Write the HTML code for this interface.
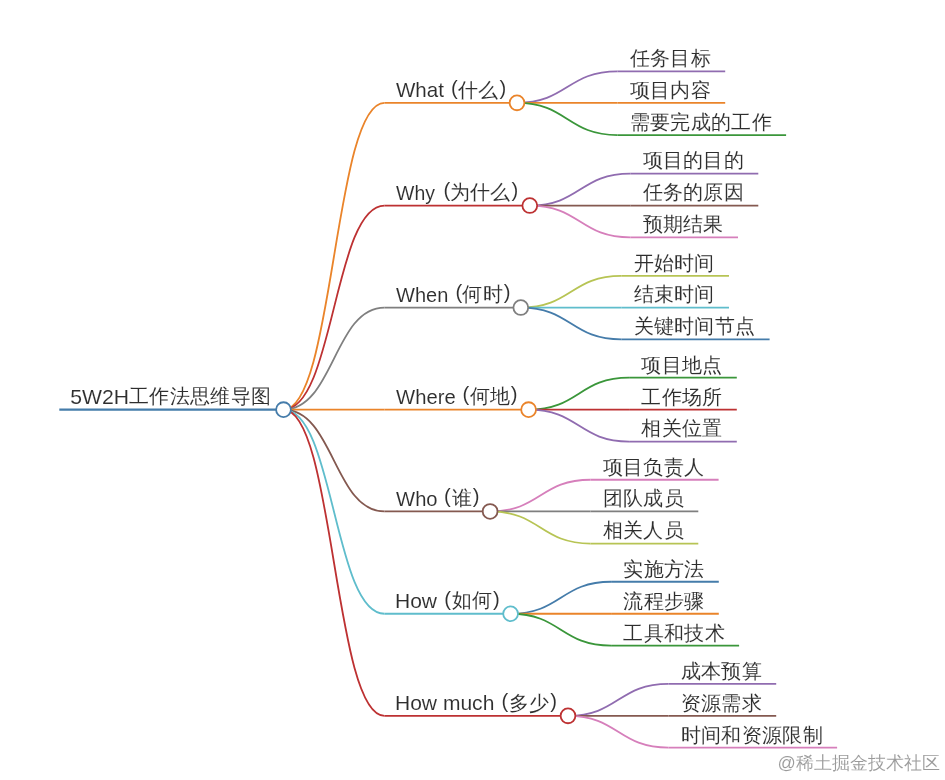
<!DOCTYPE html>
<html><head><meta charset="utf-8"><style>
html,body{margin:0;padding:0;background:#fff;width:945px;height:780px;overflow:hidden}
svg{position:absolute;left:0;top:0;will-change:transform}
text{font-family:"Liberation Sans",sans-serif;font-size:20.3px;fill:#2e2e2e;stroke:#fff;stroke-width:0.08px}
.lat{font-size:20.6px}
.cj{letter-spacing:0.3px}
.wm{fill:#9a9a9a;font-size:18px}
</style></head><body>
<svg width="945" height="780" viewBox="0 0 945 780">
<g fill="none" stroke-width="1.8">
<path d="M59.3,409.65H283.5" stroke="#457caa" stroke-width="2.4"/>
<path d="M283.50,409.65C334.00,409.65 334.00,102.85 384.50,102.85" stroke="#ea842a"/>
<path d="M384.5,102.85H517.0" stroke="#ea842a"/>
<path d="M517.00,102.85C567.25,102.85 567.25,71.35 617.50,71.35" stroke="#906cb0"/>
<path d="M617.50,71.35H725.20" stroke="#906cb0"/>
<path d="M517.00,102.85C567.25,102.85 567.25,102.85 617.50,102.85" stroke="#ea842a"/>
<path d="M617.50,102.85H725.20" stroke="#ea842a"/>
<path d="M517.00,102.85C567.25,102.85 567.25,135.05 617.50,135.05" stroke="#3a963a"/>
<path d="M617.50,135.05H786.10" stroke="#3a963a"/>
<path d="M283.50,409.65C334.00,409.65 334.00,205.55 384.50,205.55" stroke="#bd3132"/>
<path d="M384.5,205.55H529.8" stroke="#bd3132"/>
<path d="M529.80,205.55C580.05,205.55 580.05,173.55 630.30,173.55" stroke="#906cb0"/>
<path d="M630.30,173.55H758.30" stroke="#906cb0"/>
<path d="M529.80,205.55C580.05,205.55 580.05,205.55 630.30,205.55" stroke="#845950"/>
<path d="M630.30,205.55H758.30" stroke="#845950"/>
<path d="M529.80,205.55C580.05,205.55 580.05,237.45 630.30,237.45" stroke="#d67fbb"/>
<path d="M630.30,237.45H738.00" stroke="#d67fbb"/>
<path d="M283.50,409.65C334.00,409.65 334.00,307.55 384.50,307.55" stroke="#7f7f7f"/>
<path d="M384.5,307.55H520.8" stroke="#7f7f7f"/>
<path d="M520.80,307.55C571.05,307.55 571.05,275.85 621.30,275.85" stroke="#b7c454"/>
<path d="M621.30,275.85H729.00" stroke="#b7c454"/>
<path d="M520.80,307.55C571.05,307.55 571.05,307.55 621.30,307.55" stroke="#5fbdcc"/>
<path d="M621.30,307.55H729.00" stroke="#5fbdcc"/>
<path d="M520.80,307.55C571.05,307.55 571.05,339.45 621.30,339.45" stroke="#457caa"/>
<path d="M621.30,339.45H769.60" stroke="#457caa"/>
<path d="M283.50,409.65C334.00,409.65 334.00,409.65 384.50,409.65" stroke="#ea842a"/>
<path d="M384.5,409.65H528.6" stroke="#ea842a"/>
<path d="M528.60,409.65C578.85,409.65 578.85,377.65 629.10,377.65" stroke="#3a963a"/>
<path d="M629.10,377.65H736.80" stroke="#3a963a"/>
<path d="M528.60,409.65C578.85,409.65 578.85,409.65 629.10,409.65" stroke="#bd3132"/>
<path d="M629.10,409.65H736.80" stroke="#bd3132"/>
<path d="M528.60,409.65C578.85,409.65 578.85,441.55 629.10,441.55" stroke="#906cb0"/>
<path d="M629.10,441.55H736.80" stroke="#906cb0"/>
<path d="M283.50,409.65C334.00,409.65 334.00,511.45 384.50,511.45" stroke="#845950"/>
<path d="M384.5,511.45H490.1" stroke="#845950"/>
<path d="M490.10,511.45C540.35,511.45 540.35,479.75 590.60,479.75" stroke="#d67fbb"/>
<path d="M590.60,479.75H718.60" stroke="#d67fbb"/>
<path d="M490.10,511.45C540.35,511.45 540.35,511.45 590.60,511.45" stroke="#7f7f7f"/>
<path d="M590.60,511.45H698.30" stroke="#7f7f7f"/>
<path d="M490.10,511.45C540.35,511.45 540.35,543.55 590.60,543.55" stroke="#b7c454"/>
<path d="M590.60,543.55H698.30" stroke="#b7c454"/>
<path d="M283.50,409.65C334.00,409.65 334.00,613.75 384.50,613.75" stroke="#5fbdcc"/>
<path d="M384.5,613.75H510.6" stroke="#5fbdcc"/>
<path d="M510.60,613.75C560.85,613.75 560.85,581.75 611.10,581.75" stroke="#457caa"/>
<path d="M611.10,581.75H718.80" stroke="#457caa"/>
<path d="M510.60,613.75C560.85,613.75 560.85,613.75 611.10,613.75" stroke="#ea842a"/>
<path d="M611.10,613.75H718.80" stroke="#ea842a"/>
<path d="M510.60,613.75C560.85,613.75 560.85,645.65 611.10,645.65" stroke="#3a963a"/>
<path d="M611.10,645.65H739.10" stroke="#3a963a"/>
<path d="M283.50,409.65C334.00,409.65 334.00,715.85 384.50,715.85" stroke="#bd3132"/>
<path d="M384.5,715.85H568.0" stroke="#bd3132"/>
<path d="M568.00,715.85C618.25,715.85 618.25,683.85 668.50,683.85" stroke="#906cb0"/>
<path d="M668.50,683.85H776.20" stroke="#906cb0"/>
<path d="M568.00,715.85C618.25,715.85 618.25,715.85 668.50,715.85" stroke="#845950"/>
<path d="M668.50,715.85H776.20" stroke="#845950"/>
<path d="M568.00,715.85C618.25,715.85 618.25,747.65 668.50,747.65" stroke="#d67fbb"/>
<path d="M668.50,747.65H837.10" stroke="#d67fbb"/>
</g>
<g fill="#fff" stroke-width="1.8">
<circle cx="517.0" cy="102.85" r="7.4" stroke="#ea842a"/>
<circle cx="529.8" cy="205.55" r="7.4" stroke="#bd3132"/>
<circle cx="520.8" cy="307.55" r="7.4" stroke="#7f7f7f"/>
<circle cx="528.6" cy="409.65" r="7.4" stroke="#ea842a"/>
<circle cx="490.1" cy="511.45" r="7.4" stroke="#845950"/>
<circle cx="510.6" cy="613.75" r="7.4" stroke="#5fbdcc"/>
<circle cx="568.0" cy="715.85" r="7.4" stroke="#bd3132"/>
<circle cx="283.5" cy="409.65" r="7.4" stroke="#457caa"/>
</g>
<g>
<text class="lat" x="70.2" y="404.00" textLength="58.8" lengthAdjust="spacingAndGlyphs">5W2H</text>
<text class="cj" x="128.9" y="403.30" style="letter-spacing:0.35px">工作法思维导图</text>
<text class="lat" x="395.9" y="97.20" textLength="48.0" lengthAdjust="spacingAndGlyphs">What</text>
<text x="451.05" y="94.60">(</text>
<text class="cj" x="458.2" y="96.50">什么</text>
<text x="499.45" y="94.60">)</text>
<text class="cj" x="629.80" y="65.20">任务目标</text>
<text class="cj" x="629.80" y="96.70">项目内容</text>
<text class="cj" x="629.80" y="128.90">需要完成的工作</text>
<text class="lat" x="396.1" y="199.90" textLength="38.9" lengthAdjust="spacingAndGlyphs">Why</text>
<text x="443.55" y="197.30">(</text>
<text class="cj" x="449.75" y="199.20">为什么</text>
<text x="511.45" y="197.30">)</text>
<text class="cj" x="642.60" y="167.40">项目的目的</text>
<text class="cj" x="642.60" y="199.40">任务的原因</text>
<text class="cj" x="642.60" y="231.30">预期结果</text>
<text class="lat" x="396.1" y="301.90" textLength="52.3" lengthAdjust="spacingAndGlyphs">When</text>
<text x="455.45" y="299.30">(</text>
<text class="cj" x="462.3" y="301.20">何时</text>
<text x="503.75" y="299.30">)</text>
<text class="cj" x="633.60" y="269.70">开始时间</text>
<text class="cj" x="633.60" y="301.40">结束时间</text>
<text class="cj" x="633.60" y="333.30">关键时间节点</text>
<text class="lat" x="396.1" y="404.00" textLength="59.6" lengthAdjust="spacingAndGlyphs">Where</text>
<text x="462.55" y="401.40">(</text>
<text class="cj" x="469.7" y="403.30">何地</text>
<text x="510.75" y="401.40">)</text>
<text class="cj" x="641.40" y="371.50">项目地点</text>
<text class="cj" x="641.40" y="403.50">工作场所</text>
<text class="cj" x="641.40" y="435.40">相关位置</text>
<text class="lat" x="396.1" y="505.80" textLength="41.5" lengthAdjust="spacingAndGlyphs">Who</text>
<text x="443.95" y="503.20">(</text>
<text class="cj" x="451.8" y="505.10">谁</text>
<text x="472.65" y="503.20">)</text>
<text class="cj" x="602.90" y="473.60">项目负责人</text>
<text class="cj" x="602.90" y="505.30">团队成员</text>
<text class="cj" x="602.90" y="537.40">相关人员</text>
<text class="lat" x="394.95" y="608.10" textLength="42.1" lengthAdjust="spacingAndGlyphs">How</text>
<text x="444.25" y="605.50">(</text>
<text class="cj" x="451.9" y="607.40">如何</text>
<text x="493.05" y="605.50">)</text>
<text class="cj" x="623.40" y="575.60">实施方法</text>
<text class="cj" x="623.40" y="607.60">流程步骤</text>
<text class="cj" x="623.40" y="639.50">工具和技术</text>
<text class="lat" x="394.95" y="710.20" textLength="99.4" lengthAdjust="spacingAndGlyphs">How much</text>
<text x="501.45" y="707.60">(</text>
<text class="cj" x="508.65" y="709.50">多少</text>
<text x="550.25" y="707.60">)</text>
<text class="cj" x="680.80" y="677.70">成本预算</text>
<text class="cj" x="680.80" y="709.70">资源需求</text>
<text class="cj" x="680.80" y="741.50">时间和资源限制</text>
<text class="wm" x="777.5" y="768.9">@稀土掘金技术社区</text>
</g>
</svg>
</body></html>
